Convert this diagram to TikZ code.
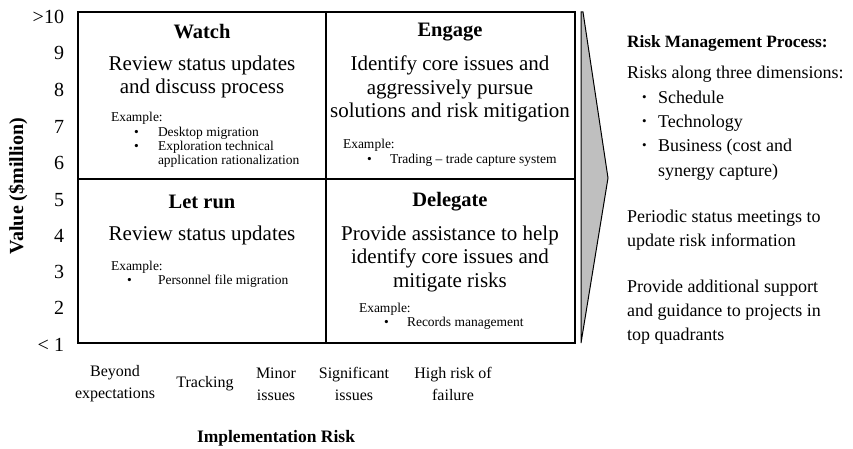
\documentclass[tikz,border=0pt]{standalone}
\usepackage{fontspec}
\setmainfont{Liberation Serif}
\begin{document}
\begin{tikzpicture}[x=1pt,y=-1pt,
  every node/.style={inner sep=0pt, outer sep=0pt},
  quad/.style={draw=black, line width=1.3pt},
  head/.style={font=\fontsize{20.5}{22}\selectfont\bfseries, anchor=center},
  desc/.style={font=\fontsize{21}{23.3}\selectfont, align=center, anchor=north},
  exlbl/.style={font=\fontsize{13.5}{14.5}\selectfont, anchor=west},
  exitem/.style={font=\fontsize{13.5}{14.5}\selectfont, anchor=west},
  ytick/.style={font=\fontsize{20}{20}\selectfont, anchor=east},
  xtick/.style={font=\fontsize{16}{22}\selectfont, align=center, anchor=center},
  axis/.style={font=\fontsize{17.5}{20}\selectfont\bfseries, anchor=center},
  side/.style={font=\fontsize{18}{23.5}\selectfont, anchor=base west},
  chev/.style={draw=black, fill=black!25, line width=1pt, line join=miter}
]
\useasboundingbox (0,0) rectangle (853,449);

% quadrant grid
\coordinate (tl) at (78,12);
\coordinate (br) at (575,343);
\coordinate (mt) at (326,12);
\coordinate (mb) at (326,343);
\coordinate (ml) at (78,179);
\coordinate (mr) at (575,179);
\draw[quad] (tl) rectangle (br);
\draw[quad] (mt) -- (mb);
\draw[quad] (ml) -- (mr);

% chevron
\coordinate (c1) at (581,12);
\coordinate (c2) at (583,12);
\coordinate (c3) at (608,178);
\coordinate (c4) at (581,343);
\draw[chev] (c1) -- (c2) -- (c3) -- (c4) -- cycle;

% y ticks
\node[ytick] (y10) at (64,17) {>10};
\node[ytick] (y9) at (64,53) {9};
\node[ytick] (y8) at (64,90) {8};
\node[ytick] (y7) at (64,127) {7};
\node[ytick] (y6) at (64,163) {6};
\node[ytick] (y5) at (64,200) {5};
\node[ytick] (y4) at (64,236) {4};
\node[ytick] (y3) at (64,272) {3};
\node[ytick] (y2) at (64,308) {2};
\node[ytick] (y1) at (64,345) {< 1};

\node[axis, font=\fontsize{20}{22}\selectfont\bfseries, rotate=90] (ylab) at (18,186) {Value (\$million)};

% x ticks
\node[xtick] (x1) at (115,384) {Beyond\\expectations};
\node[xtick] (x2) at (205,384) {Tracking};
\node[xtick] (x3) at (276,384) {Minor\\issues};
\node[xtick] (x4) at (354,384) {Significant\\issues};
\node[xtick] (x5) at (453,384) {High risk of\\failure};
\node[axis] (xlab) at (276,438) {Implementation Risk};

% Watch
\node[head] (wh) at (202,32) {Watch};
\node[desc] (wd) at (202,56) {Review status updates\\and discuss process};
\node[exlbl] (we) at (111,118) {Example:};
\node[exitem] (wb1) at (134,133) {\textbullet};
\node[exitem] (wi1) at (158,133) {Desktop migration};
\node[exitem] (wb2) at (134,147) {\textbullet};
\node[exitem, align=left] (wi2) at (158,154.5) {Exploration technical\\application rationalization};

% Engage
\node[head] (eh) at (450,32) {Engage};
\node[desc] (ed) at (450,56) {Identify core issues and\\aggressively pursue\\solutions and risk mitigation};
\node[exlbl] (ee) at (343,145) {Example:};
\node[exitem] (eb1) at (367,160) {\textbullet};
\node[exitem] (ei1) at (390,160) {Trading -- trade capture system};

% Let run
\node[head] (lh) at (202,202) {Let run};
\node[desc] (ld) at (202,226) {Review status updates};
\node[exlbl] (le) at (111,267) {Example:};
\node[exitem] (lb1) at (127,281) {\textbullet};
\node[exitem] (li1) at (158,281) {Personnel file migration};

% Delegate
\node[head] (dh) at (450,202) {Delegate};
\node[desc] (dd) at (450,226) {Provide assistance to help\\identify core issues and\\mitigate risks};
\node[exlbl] (de) at (359,309) {Example:};
\node[exitem] (db1) at (384,323) {\textbullet};
\node[exitem] (di1) at (407,323) {Records management};

% side panel
\node[side, font=\fontsize{17.3}{20}\selectfont\bfseries] (st) at (627,48) {Risk Management Process:};
\node[side] (s1) at (627,79) {Risks along three dimensions:};
\node[side, font=\fontsize{13}{14}\selectfont] (sb1) at (642,102) {\textbullet};
\node[side] (si1) at (658,104) {Schedule};
\node[side, font=\fontsize{13}{14}\selectfont] (sb2) at (642,126) {\textbullet};
\node[side] (si2) at (658,128) {Technology};
\node[side, font=\fontsize{13}{14}\selectfont] (sb3) at (642,150) {\textbullet};
\node[side] (si3) at (658,152) {Business (cost and};
\node[side] (si3b) at (658,176) {synergy capture)};
\node[side] (s2a) at (627,222) {Periodic status meetings to};
\node[side] (s2b) at (627,246) {update risk information};
\node[side] (s3a) at (627,292) {Provide additional support};
\node[side] (s3b) at (627,316) {and guidance to projects in};
\node[side] (s3c) at (627,340) {top quadrants};
\end{tikzpicture}
\end{document}
